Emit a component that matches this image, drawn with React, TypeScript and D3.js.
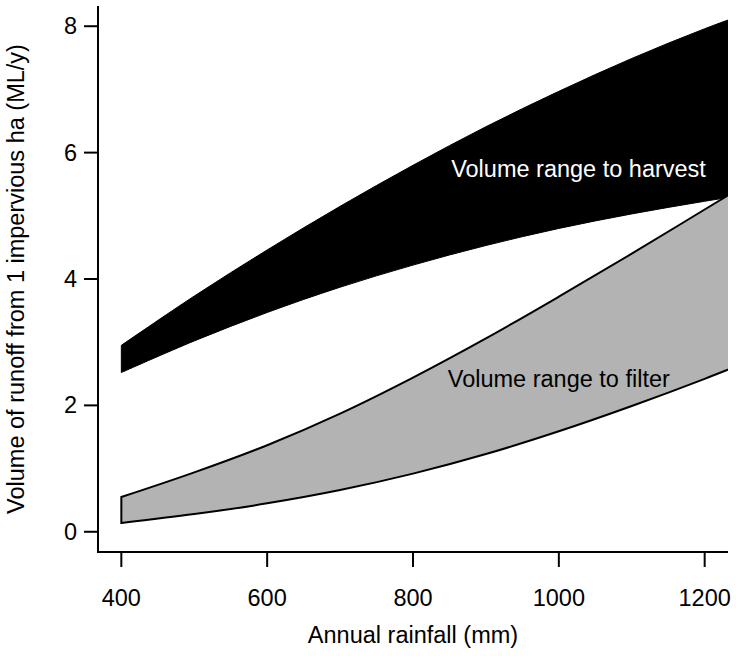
import React from "react";
import * as d3 from "d3";

const rainfall = [400, 500, 600, 700, 800, 900, 1000, 1100, 1200, 1300];
const harvestUpper = [2.95, 3.73, 4.46, 5.15, 5.8, 6.41, 6.97, 7.49, 7.96, 8.38];
const harvestLower = [2.52, 3.02, 3.47, 3.87, 4.22, 4.53, 4.8, 5.03, 5.23, 5.41];
const filterUpper = [0.55, 0.94, 1.37, 1.87, 2.44, 3.06, 3.72, 4.4, 5.1, 5.8];
const filterLower = [0.14, 0.28, 0.45, 0.66, 0.92, 1.23, 1.59, 1.99, 2.42, 2.88];
const xTicks = [400, 600, 800, 1000, 1200];
const yTicks = [0, 2, 4, 6, 8];

const W = 736;
const H = 656;
const left = 98, right = 728, top = 6, bottom = 552;
const FONT = "'Liberation Sans', Arial, Helvetica, sans-serif";
const FS = 23.5;

export default function App() {
  const x = d3.scaleLinear().domain([368, 1232]).range([left, right]);
  const y = d3.scaleLinear().domain([-0.32, 8.32]).range([bottom, top]);

  const band = (up: number[], lo: number[]) => {
    const pts = rainfall.map((r, i) => ({ r, u: up[i], l: lo[i] }));
    const upper = d3.line<any>().x(d => x(d.r)).y(d => y(d.u)).curve(d3.curveCatmullRom)(pts) || "";
    const lowerRev = d3.line<any>().x(d => x(d.r)).y(d => y(d.l)).curve(d3.curveCatmullRom)([...pts].reverse()) || "";
    return upper + "L" + lowerRev.slice(1) + "Z";
  };

  return (
    <svg width={W} height={H} style={{ position: "absolute", left: 0, top: 0, background: "#fff" }}>
      <defs>
        <clipPath id="plot">
          <rect x={left} y={top} width={right - left} height={bottom - top} />
        </clipPath>
      </defs>
      <g clipPath="url(#plot)">
        <path d={band(harvestUpper, harvestLower)} fill="#000" stroke="#000" strokeWidth={1} />
        <path d={band(filterUpper, filterLower)} fill="#b3b3b3" stroke="#000" strokeWidth={2} strokeLinejoin="miter" />
      </g>
      <text x={x(1027)} y={y(5.74)} fill="#fff" fontFamily={FONT} fontSize={FS} textAnchor="middle" dominantBaseline="central">Volume range to harvest</text>
      <text x={x(1000)} y={y(2.41)} fill="#000" fontFamily={FONT} fontSize={FS} textAnchor="middle" dominantBaseline="central">Volume range to filter</text>

      <path d={`M${left},${top}V${bottom}H${right}`} fill="none" stroke="#000" strokeWidth={2} />
      {xTicks.map(t => (
        <g key={"x" + t}>
          <line x1={x(t)} x2={x(t)} y1={bottom} y2={bottom + 15} stroke="#000" strokeWidth={2} />
          <text x={x(t)} y={606} textAnchor="middle" fontFamily={FONT} fontSize={FS}>{t}</text>
        </g>
      ))}
      {yTicks.map(t => (
        <g key={"y" + t}>
          <line x1={left - 14} x2={left} y1={y(t)} y2={y(t)} stroke="#000" strokeWidth={2} />
          <text x={left - 21} y={y(t)} textAnchor="end" dominantBaseline="central" fontFamily={FONT} fontSize={FS}>{t}</text>
        </g>
      ))}
      <text x={(left + right) / 2} y={643} textAnchor="middle" fontFamily={FONT} fontSize={FS}>Annual rainfall (mm)</text>
      <text transform={`translate(24,${(top + bottom) / 2}) rotate(-90)`} textAnchor="middle" fontFamily={FONT} fontSize={FS}>Volume of runoff from 1 impervious ha (ML/y)</text>
    </svg>
  );
}
